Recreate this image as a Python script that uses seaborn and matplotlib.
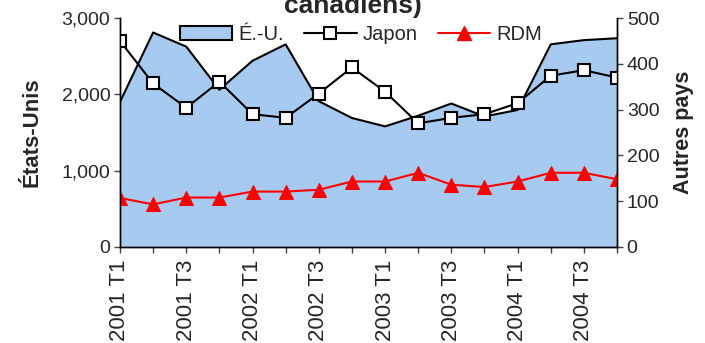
import numpy as np
import matplotlib
matplotlib.use("Agg")
import matplotlib.pyplot as plt
from matplotlib.patches import Patch
from matplotlib.lines import Line2D
import seaborn as sns

# quarters 2001 T1 .. 2004 T4
quarters = ["2001 T1", "2001 T2", "2001 T3", "2001 T4",
            "2002 T1", "2002 T2", "2002 T3", "2002 T4",
            "2003 T1", "2003 T2", "2003 T3", "2003 T4",
            "2004 T1", "2004 T2", "2004 T3", "2004 T4"]
eu = [1900, 2810, 2625, 2060, 2440, 2655, 1910, 1690,
      1580, 1720, 1880, 1710, 1795, 2655, 2710, 2735]
japon = [450, 357, 304, 361, 290, 282, 335, 392,
         339, 270, 282, 290, 314, 374, 386, 370]
rdm = [107, 93, 108, 108, 121, 121, 125, 143,
       143, 162, 136, 131, 143, 162, 162, 148]

sns.set_style("ticks")
plt.rcParams["font.family"] = ["Liberation Sans", "DejaVu Sans"]

fig = plt.figure(figsize=(7.05, 3.43), dpi=100)
ax = fig.add_axes([0.1702, 0.2799, 0.705, 0.6676])
ax2 = ax.twinx()

x = np.arange(len(quarters))
blue = "#A6CAF0"

# US area on left axis
ax.fill_between(x, 0, eu, color=blue, linewidth=0)
sns.lineplot(x=x, y=eu, ax=ax, color="black", linewidth=1.5, legend=False)

# other countries on right axis
sns.lineplot(x=x, y=japon, ax=ax2, color="black", linewidth=1.5, marker="s",
             markersize=9, markerfacecolor="white", markeredgecolor="black",
             markeredgewidth=1.5, legend=False)
sns.lineplot(x=x, y=rdm, ax=ax2, color="red", linewidth=1.5, marker="^",
             markersize=10, markerfacecolor="red", markeredgecolor="red",
             legend=False)

ax.set_xlim(0, 15)
ax.set_ylim(0, 3000)
ax2.set_ylim(0, 500)
ax.set_yticks([0, 1000, 2000, 3000])
ax.set_yticklabels(["0", "1,000", "2,000", "3,000"])
ax2.set_yticks([0, 100, 200, 300, 400, 500])
ax.set_xticks(x)
ax.set_xticklabels([q if i % 2 == 0 else "" for i, q in enumerate(quarters)],
                   rotation=90)

for a in (ax, ax2):
    a.spines["top"].set_visible(False)
    for s in ("left", "right", "bottom"):
        a.spines[s].set_color("black")
        a.spines[s].set_linewidth(1.0)
    a.tick_params(axis="both", direction="out", length=4, width=1,
                  color="#444444", labelsize=14, pad=3)
    a.set_xlabel("")
ax.tick_params(axis="x", pad=5, labelsize=16)

ax.set_ylabel("États-Unis", fontsize=16, fontweight="bold", labelpad=14)
ax2.set_ylabel("Autres pays", fontsize=15.5, fontweight="bold", labelpad=10)

fig.text(0.5, 1 - 13.5 / 343, "canadiens)", ha="center", va="baseline",
         fontsize=19, fontweight="bold")

handles = [
    Patch(facecolor=blue, edgecolor="black", linewidth=1.5),
    Line2D([], [], color="black", lw=1.5, marker="s", markersize=9,
           markerfacecolor="white", markeredgecolor="black", markeredgewidth=1.5),
    Line2D([], [], color="red", lw=1.5, marker="^", markersize=10,
           markerfacecolor="red", markeredgecolor="red"),
]
fig.legend(handles, ["É.-U.", "Japon", "RDM"], loc="center",
           bbox_to_anchor=(0.512, 0.899), ncol=3, frameon=False, fontsize=14.5,
           handlelength=2.6, handleheight=0.7, handletextpad=0.3,
           columnspacing=1.0, borderpad=0, borderaxespad=0)

fig.savefig("out.png", dpi=100)
